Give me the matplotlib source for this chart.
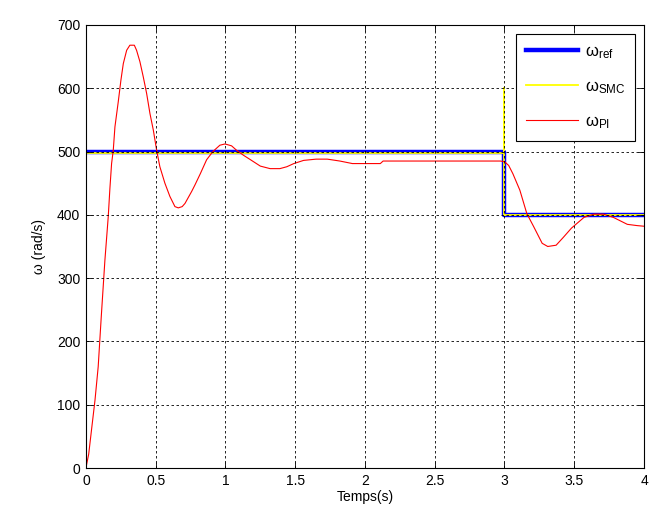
import numpy as np
import matplotlib
matplotlib.use("Agg")
import matplotlib.pyplot as plt

plt.rcParams['font.family'] = ['Liberation Sans', 'DejaVu Sans']
plt.rcParams['mathtext.fontset'] = 'custom'
plt.rcParams['mathtext.rm'] = 'Liberation Sans'
plt.rcParams['mathtext.it'] = 'Liberation Sans:italic'

# Reference speed
t_ref = [0, 3, 3, 4]
w_ref = [500, 500, 400, 400]

# SMC speed
t_smc = [0, 0, 3, 3, 3, 4]
w_smc = [0, 498, 498, 600, 400, 400]

# PI speed
t_pi = [0, 0.02, 0.04, 0.065, 0.088, 0.11, 0.136, 0.16, 0.172, 0.184, 0.196, 0.208,
        0.232, 0.251, 0.268, 0.292, 0.315, 0.347, 0.363, 0.387, 0.411, 0.435, 0.459,
        0.483, 0.507, 0.530, 0.566, 0.602, 0.638, 0.662, 0.690, 0.710, 0.758, 0.781,
        0.82, 0.865, 0.91, 0.96, 0.997, 1.044, 1.08, 1.13, 1.18, 1.25, 1.32, 1.39,
        1.44, 1.49, 1.56, 1.65, 1.73, 1.82, 1.91, 2.0, 2.11, 2.13, 2.5, 2.97, 3.0,
        3.03, 3.06, 3.11, 3.16, 3.21, 3.27, 3.31, 3.37, 3.42, 3.48, 3.57, 3.64, 3.71,
        3.78, 3.88, 3.95, 4.0]
w_pi = [0, 22, 60, 107, 160, 239, 328, 397, 442, 481, 502, 539,
        579, 613, 639, 660, 668, 668, 660, 642, 618, 592, 560,
        534, 502, 476, 450, 429, 413, 411, 413, 418, 437, 447,
        465, 487, 500, 510, 512, 509, 502, 494, 487, 477, 473, 473,
        476, 481, 486, 488, 488, 485, 481, 481, 481, 485, 485, 485, 484,
        478, 465, 439, 402, 381, 355, 350, 352, 364, 379, 396, 401, 401,
        396, 385, 383, 382]

fig = plt.figure(figsize=(6.66, 5.2), dpi=100)
ax = fig.add_axes([0.129, 0.100, 0.838, 0.852])

ax.plot(t_ref, w_ref, color='#0000ff', lw=3.2, label='ω$_{\\mathrm{ref}}$', zorder=2)
ax.plot(t_smc, w_smc, color='#ffff00', lw=1.3, label='ω$_{\\mathrm{SMC}}$', zorder=2.1)
ax.plot(t_pi, w_pi, color='#ff0000', lw=0.8, label='ω$_{\\mathrm{PI}}$', zorder=2.2)

ax.set_xlim(0, 4)
ax.set_ylim(0, 700)
ax.set_xticks(np.arange(0, 4.01, 0.5))
ax.set_xticklabels(['0', '0.5', '1', '1.5', '2', '2.5', '3', '3.5', '4'])
ax.set_yticks(np.arange(0, 701, 100))
ax.set_axisbelow(False)
ax.grid(True, color='black', linestyle=(0, (3, 3)), linewidth=0.6)
ax.tick_params(direction='in', top=True, right=True, labelsize=10, length=4, width=0.6, pad=4)
for s in ax.spines.values():
    s.set_linewidth(0.8)

ax.set_xlabel('Temps(s)', fontsize=10, labelpad=2)
ax.set_ylabel('ω (rad/s)', fontsize=10, labelpad=8)

leg = ax.legend(loc='upper right', bbox_to_anchor=(0.984, 0.979), fontsize=12,
                frameon=True, fancybox=False, edgecolor='black', framealpha=1,
                labelspacing=1.1, handlelength=3.1, handletextpad=0.42,
                borderpad=0.6, borderaxespad=0)
leg.get_frame().set_linewidth(0.8)

fig.savefig('out.png', dpi=100)
